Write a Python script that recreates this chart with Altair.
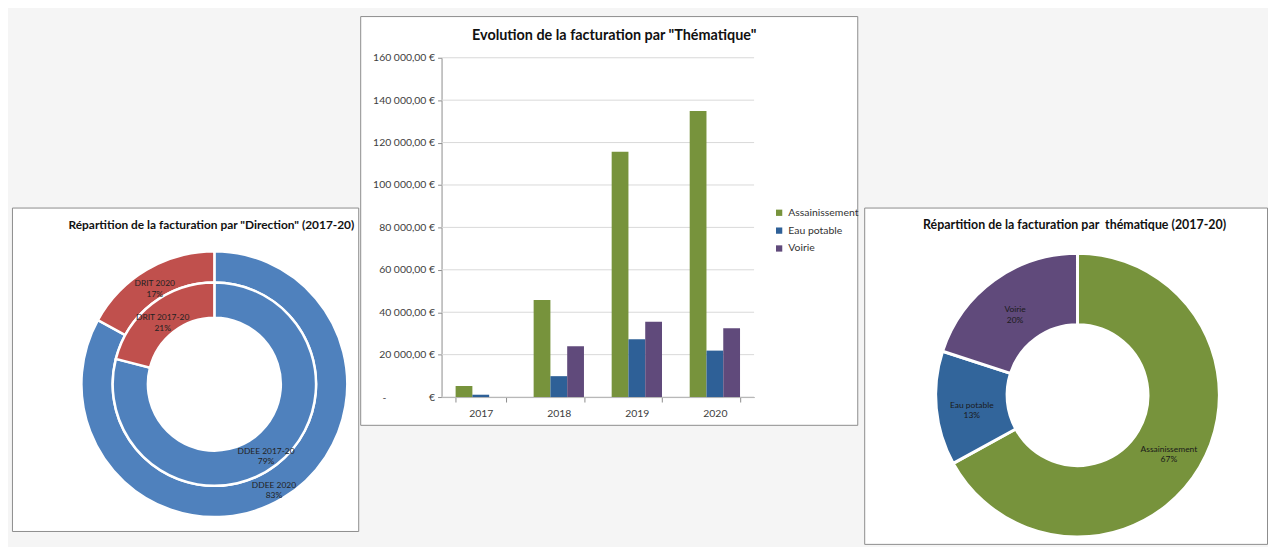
import altair as alt
import pandas as pd

FONT = "Lato"

# ---------------- data ----------------
years = ["2017", "2018", "2019", "2020"]
themes = ["Assainissement", "Eau potable", "Voirie"]
assainissement = [5200, 45800, 115700, 134900]
eau_potable = [1100, 9850, 27300, 21900]
voirie = [0, 23900, 35500, 32500]
y_ticks = [0, 20000, 40000, 60000, 80000, 100000, 120000, 140000, 160000]

theme_names = ["Assainissement", "Eau potable", "Voirie"]
theme_pct = [67, 13, 20]

dir_outer_names = ["DDEE 2020", "DRIT 2020"]
dir_outer_pct = [83, 17]
dir_inner_names = ["DDEE 2017-20", "DRIT 2017-20"]
dir_inner_pct = [79, 21]
dir_keys = ["DDEE", "DRIT"]

bar_title = "Evolution de la facturation par \"Thématique\""
left_title = "Répartition de la facturation par \"Direction\" (2017-20)"
right_title = "Répartition de la facturation par\u00a0\u00a0thématique (2017-20)"

theme_colors = ["#77933C", "#2E6097", "#604A7B"]
theme_colors_pie = ["#77933C", "#32659B", "#604A7B"]
dir_colors = ["#4F81BD", "#C0504D"]

# ---------------- bar chart ----------------
rows = []
for i, yr in enumerate(years):
    for t, vals in zip(themes, [assainissement, eau_potable, voirie]):
        rows.append({"year": yr, "theme": t, "value": vals[i]})
bar_df = pd.DataFrame(rows)
tick_df = pd.DataFrame({"v": y_ticks})

BW, BH = 501, 412
PX0, PX1, PY0, PY1 = 82, 397, 384, 42

ys = alt.Scale(domain=[0, 160000], range=[PY0, PY1], nice=False)
nb = "\u00a0"
label_expr = ("datum.value == 0 ? '-" + nb * 16 + "€' : "
              "replace(replace(format(datum.value, ',.2f'), ',', '" + nb + "'), '.', ',') + '" + nb + "€'")
yaxis = alt.Axis(values=y_ticks, labelExpr=label_expr, offset=-PX0, grid=False,
                 domainColor="#8c8c8c", tickColor="#8c8c8c", tickSize=4,
                 labelFontSize=10.5, labelColor="#404040", labelFont=FONT, title=None,
                 labelPadding=3)

grid = alt.Chart(tick_df).mark_rule(color="#d9d9d9", strokeWidth=1).encode(
    y=alt.Y("v:Q", scale=ys, axis=yaxis),
    x=alt.value(PX0),
    x2=alt.value(PX1),
)

bars = alt.Chart(bar_df).mark_bar().encode(
    x=alt.X("year:N", sort=years,
            scale=alt.Scale(range=[PX0, PX1], paddingInner=0.355, paddingOuter=0.18),
            axis=alt.Axis(offset=-(BH - PY0), tickBand="extent", labelAngle=0,
                          domainColor="#8c8c8c", tickColor="#8c8c8c", tickSize=5,
                          labelPadding=7, labelFontSize=10.5, labelColor="#404040",
                          labelFont=FONT, title=None, grid=False)),
    xOffset=alt.XOffset("theme:N", sort=themes),
    y=alt.Y("value:Q", scale=ys, axis=yaxis),
    color=alt.Color("theme:N", sort=themes,
                    scale=alt.Scale(domain=themes, range=theme_colors),
                    legend=alt.Legend(orient="none", legendX=417, legendY=193, title=None,
                                      symbolType="square", symbolSize=40, labelFontSize=10.5,
                                      labelFont=FONT, labelColor="#333333", rowPadding=7,
                                      symbolStrokeWidth=0)),
)

bar_title_layer = alt.Chart(pd.DataFrame({"t": [bar_title]})).mark_text(
    fontSize=14.5, fontWeight="bold", font=FONT, color="#111111"
).encode(text="t:N", x=alt.value(256), y=alt.value(20))

bar_chart = alt.layer(grid, bars, bar_title_layer).properties(
    width=BW, height=BH,
    view=alt.ViewBackground(fill="white", stroke="#8c8c8c", strokeWidth=1),
)

# ---------------- right donut ----------------
rdf = pd.DataFrame({"name": theme_names, "pct": theme_pct, "idx": list(range(len(theme_names)))})
rdf["label"] = rdf["name"] + "\n" + rdf["pct"].astype(str) + "%"

RCX, RCY = 215, 189
rbase = alt.Chart(rdf).encode(
    theta=alt.Theta("pct:Q", stack=True),
    order=alt.Order("idx:Q"),
    x=alt.value(RCX), y=alt.value(RCY),
)
rarc = rbase.mark_arc(radius=143, radius2=71, stroke="white", strokeWidth=3).encode(
    color=alt.Color("name:N", scale=alt.Scale(domain=theme_names, range=theme_colors_pie), legend=None)
)
rtxt = rbase.mark_text(radius=107, fontSize=8.5, lineBreak="\n", color="#1a1a1a", font=FONT).encode(
    text="label:N"
)
rtitle = alt.Chart(pd.DataFrame({"t": [right_title]})).mark_text(
    fontSize=12.5, fontWeight="bold", font=FONT, color="#111111"
).encode(text="t:N", x=alt.value(212), y=alt.value(18))

right_donut = alt.layer(rarc, rtxt, rtitle).properties(
    width=406, height=339,
    view=alt.ViewBackground(fill="white", stroke="#8c8c8c", strokeWidth=1),
)

# ---------------- left donut ----------------
odf = pd.DataFrame({"name": dir_outer_names, "pct": dir_outer_pct, "dir": dir_keys, "idx": [0, 1]})
odf["label"] = odf["name"] + "\n" + odf["pct"].astype(str) + "%"
idf = pd.DataFrame({"name": dir_inner_names, "pct": dir_inner_pct, "dir": dir_keys, "idx": [0, 1]})
idf["label"] = idf["name"] + "\n" + idf["pct"].astype(str) + "%"

LCX, LCY = 204, 178
dir_color = alt.Color("dir:N", scale=alt.Scale(domain=dir_keys, range=dir_colors), legend=None)


def ring(df, r_out, r_in, r_lab):
    base = alt.Chart(df).encode(
        theta=alt.Theta("pct:Q", stack=True),
        order=alt.Order("idx:Q"),
        x=alt.value(LCX), y=alt.value(LCY),
    )
    a = base.mark_arc(radius=r_out, radius2=r_in, stroke="white", strokeWidth=2.5).encode(color=dir_color)
    t = base.mark_text(radius=r_lab, fontSize=8.5, lineBreak="\n", color="#222222", font=FONT).encode(
        text="label:N")
    return a, t


oa, ot = ring(odf, 134, 102.5, 118)
ia, it = ring(idf, 102.5, 67, 85)
ltitle = alt.Chart(pd.DataFrame({"t": [left_title]})).mark_text(
    fontSize=12, fontWeight="bold", font=FONT, color="#111111"
).encode(text="t:N", x=alt.value(201), y=alt.value(18))

left_donut = alt.layer(oa, ia, ot, it, ltitle).properties(
    width=349, height=326,
    view=alt.ViewBackground(fill="white", stroke="#8c8c8c", strokeWidth=1),
)


# ---------------- layout ----------------
def spacer(w, h):
    return alt.Chart(pd.DataFrame({"a": [0]})).mark_point(opacity=0).encode(
        x=alt.value(0), y=alt.value(0)
    ).properties(width=w, height=h, view=alt.ViewBackground(stroke="transparent"))


left_col = alt.vconcat(spacer(349, 191), left_donut, spacing=0)
right_col = alt.vconcat(spacer(406, 191), right_donut, spacing=0)

chart = alt.hconcat(left_col, bar_chart, right_col, spacing=0).resolve_scale(
    color="independent", theta="independent"
).properties(
    padding={"left": 0, "top": 2, "right": 0, "bottom": 0},
    background="#f5f5f5",
).configure(font=FONT)

chart.save("out.html", embed_options={"renderer": "svg", "actions": False})
